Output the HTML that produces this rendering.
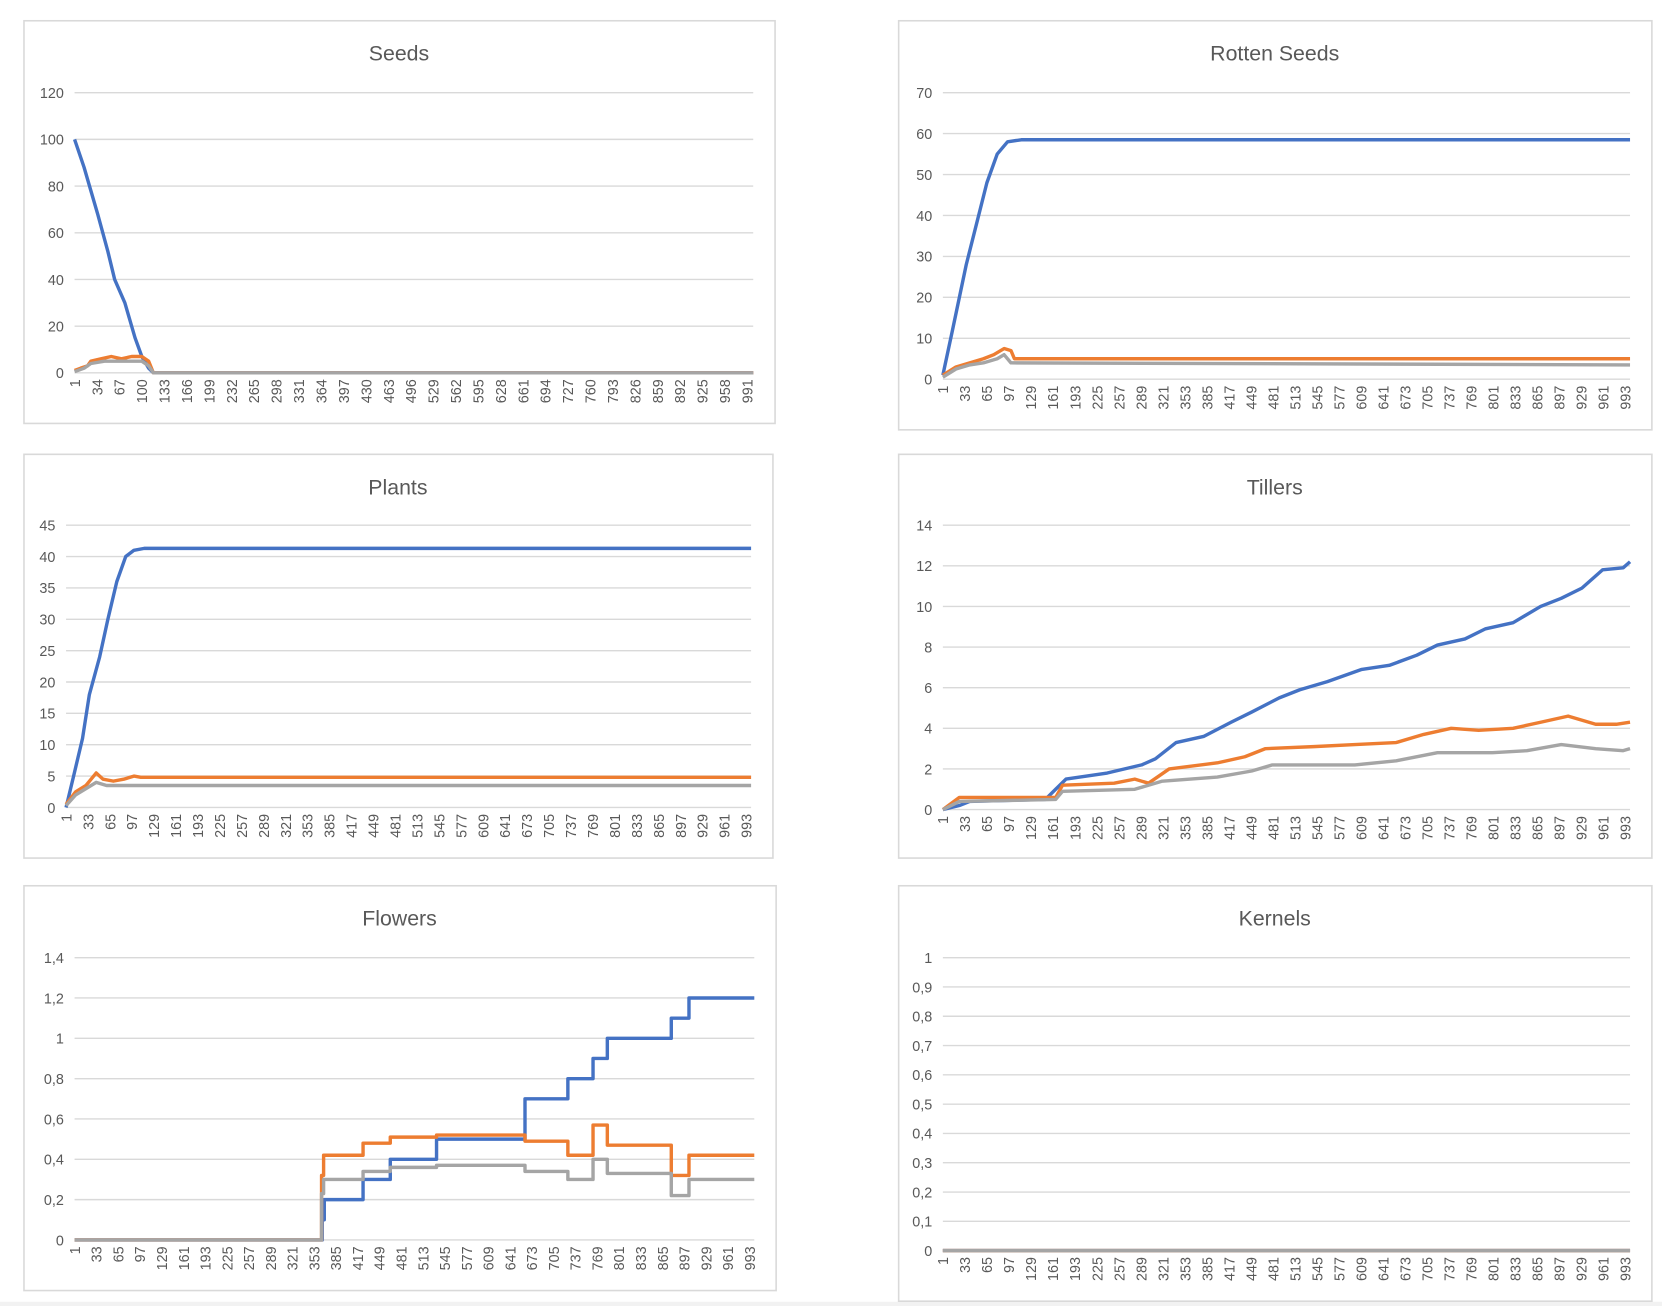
<!DOCTYPE html>
<html><head><meta charset="utf-8"><style>
html,body{margin:0;padding:0;background:#fff;}
svg{display:block;font-family:"Liberation Sans",sans-serif;}
</style></head><body>
<svg id="root" width="1662" height="1306" viewBox="0 0 1560 1226" preserveAspectRatio="none" xmlns="http://www.w3.org/2000/svg">
<rect x="0" y="1222" width="1560" height="4" fill="#f2f2f2"/>
</svg>
<script>
// ---- Seeds ----
const seedsBlue=[[1,100],[15,88],[25,78],[35,68],[50,52],[60,40],[75,30],[90,15],[100,7],[110,2],[117,0],[1000,0]];
const seedsOrange=[[1,1],[10,2],[20,3],[25,5],[40,6],[55,7],[70,6],[85,7],[100,7],[110,5],[117,0],[1000,0]];
const seedsGrey=[[1,0.5],[15,2],[25,4],[45,5],[60,5],[100,5],[110,3],[117,0],[1000,0]];
const seedsTicks=[0,20,40,60,80,100,120];
// ---- Rotten Seeds ----
const rotBlue=[[1,1],[15,12],[25,20],[35,28],[50,38],[65,48],[80,55],[95,58],[115,58.5],[1000,58.5]];
const rotOrange=[[1,1],[20,3],[40,4],[60,5],[75,6],[90,7.5],[100,7],[105,5],[1000,5]];
const rotGrey=[[1,0.5],[20,2.5],[40,3.5],[60,4],[80,5],[90,6],[100,4],[1000,3.5]];
const rotTicks=[0,10,20,30,40,50,60,70];
// ---- Plants ----
const plantBlue=[[1,0],[12,5],[25,11],[35,18],[50,24],[62,30],[75,36],[88,40],[100,41],[115,41.3],[1000,41.3]];
const plantOrange=[[1,0.5],[15,2.5],[30,3.5],[45,5.5],[55,4.5],[70,4.2],[85,4.5],[100,5],[110,4.8],[1000,4.8]];
const plantGrey=[[1,0.3],[15,2],[30,3],[45,4],[60,3.5],[80,3.5],[1000,3.5]];
const plantTicks=[0,5,10,15,20,25,30,35,40,45];
// ---- Tillers ----
const tilBlue=[[1,0],[25,0.2],[40,0.4],[150,0.5],[165,1],[180,1.5],[240,1.8],[290,2.2],[310,2.5],[340,3.3],[380,3.6],[420,4.3],[450,4.8],[490,5.5],[520,5.9],[560,6.3],[610,6.9],[650,7.1],[690,7.6],[720,8.1],[760,8.4],[790,8.9],[830,9.2],[870,10],[900,10.4],[930,10.9],[960,11.8],[990,11.9],[1000,12.2]];
const tilOrange=[[1,0],[25,0.6],[165,0.6],[175,1.2],[250,1.3],[280,1.5],[300,1.3],[330,2],[400,2.3],[440,2.6],[470,3],[540,3.1],[600,3.2],[660,3.3],[700,3.7],[740,4],[780,3.9],[830,4],[870,4.3],[910,4.6],[950,4.2],[980,4.2],[1000,4.3]];
const tilGrey=[[1,0],[25,0.4],[165,0.5],[175,0.9],[280,1],[320,1.4],[400,1.6],[450,1.9],[480,2.2],[600,2.2],[660,2.4],[720,2.8],[800,2.8],[850,2.9],[900,3.2],[950,3],[990,2.9],[1000,3]];
const tilTicks=[0,2,4,6,8,10,12,14];
// ---- Flowers (step series) ----
const flBlue=[[1,0],[365,0.1],[368,0.2],[425,0.3],[465,0.4],[533,0.5],[663,0.7],[726,0.8],[763,0.9],[784,1.0],[878,1.1],[904,1.2],[1000,1.2]];
const flOrange=[[1,0],[364,0.32],[367,0.42],[425,0.48],[465,0.51],[533,0.52],[663,0.49],[726,0.42],[763,0.57],[784,0.47],[878,0.32],[904,0.42],[1000,0.42]];
const flGrey=[[1,0],[364,0.23],[367,0.3],[425,0.34],[465,0.36],[533,0.37],[663,0.34],[726,0.3],[763,0.4],[784,0.33],[878,0.22],[904,0.3],[1000,0.3]];
const flTicks=[0,0.2,0.4,0.6,0.8,1,1.2,1.4];
// ---- Kernels ----
const kerBlue=[[1,0],[1000,0]];
const kerOrange=[[1,0],[1000,0]];
const kerGrey=[[1,0],[1000,0]];
const kerTicks=[0,0.1,0.2,0.3,0.4,0.5,0.6,0.7,0.8,0.9,1];
const labels33=[];for(let v=1;v<=1000;v+=33)labels33.push(v);
const labels32=[];for(let v=1;v<=1000;v+=32)labels32.push(v);

const NS="http://www.w3.org/2000/svg";
const root=document.getElementById('root');
function mk(tag,attrs,parent){const e=document.createElementNS(NS,tag);for(const k in attrs)e.setAttribute(k,attrs[k]);parent.appendChild(e);return e;}
const COLORS={blue:'#4472c4',orange:'#ed7d31',grey:'#a5a5a5'};

function chart(o){
  const g=mk('g',{},root);
  
  
  const b=mk('rect',{x:o.box[0]+0.5,y:o.box[1]+0.5,width:o.box[2]-o.box[0],height:o.box[3]-o.box[1],fill:'#fff',stroke:'#d9d9d9','stroke-width':1.5},g);
  
  
  const t=mk('text',{x:(o.box[0]+o.box[2])/2,y:o.box[1]+38,'text-anchor':'middle','font-size':20,fill:'#595959'},g);
  t.textContent=o.title;
  
  
  const ymax=o.ticks[o.ticks.length-1];
  const X=v=>o.x0+(v-1)/999*(o.x1-o.x0);
  const Y=v=>o.y0-v/ymax*(o.y0-o.y1);
  o.ticks.forEach(tv=>{
    const l=mk('line',{x1:o.x0,x2:o.x1,y1:Y(tv),y2:Y(tv),stroke:'#d9d9d9','stroke-width':1.3},g);
    
    
    const tx=mk('text',{x:o.x0-10,y:Y(tv)+5,'text-anchor':'end','font-size':13.5,fill:'#595959'},g);
    tx.textContent=String(tv).replace('.',',');
    
    
  });
  o.xlabels.forEach(v=>{
    const px=X(v)+5, py=o.y0+6;
    const tx=mk('text',{x:px,y:py,transform:`rotate(-90 ${px} ${py})`,'text-anchor':'end','font-size':13.5,fill:'#595959'},g);
    tx.textContent=v;
    
    
  });
  o.series.forEach(s=>{
    let d='';
    s.data.forEach((p,i)=>{
      if(i===0){d+='M'+X(p[0])+','+Y(p[1]);}
      else{
        if(o.step)d+='L'+X(p[0])+','+Y(s.data[i-1][1]);
        d+='L'+X(p[0])+','+Y(p[1]);
      }
    });
    const p=mk('path',{d:d,fill:'none',stroke:COLORS[s.c],'stroke-width':3.2,'stroke-linejoin':'round'},g);
    
    
  });
}
chart({name:'seeds',title:'Seeds',box:[22,19,727,397],x0:70,x1:707,y0:350,y1:87,ticks:seedsTicks,xlabels:labels33,
  series:[{c:'blue',data:seedsBlue},{c:'orange',data:seedsOrange},{c:'grey',data:seedsGrey}]});
chart({name:'rotten-seeds',title:'Rotten Seeds',box:[843,19,1550,403],x0:885,x1:1530,y0:356,y1:87,ticks:rotTicks,xlabels:labels32,
  series:[{c:'blue',data:rotBlue},{c:'orange',data:rotOrange},{c:'grey',data:rotGrey}]});
chart({name:'plants',title:'Plants',box:[22,426,725,805],x0:62,x1:705,y0:758,y1:493,ticks:plantTicks,xlabels:labels32,
  series:[{c:'blue',data:plantBlue},{c:'orange',data:plantOrange},{c:'grey',data:plantGrey}]});
chart({name:'tillers',title:'Tillers',box:[843,426,1550,805],x0:885,x1:1530,y0:760,y1:493,ticks:tilTicks,xlabels:labels32,
  series:[{c:'blue',data:tilBlue},{c:'orange',data:tilOrange},{c:'grey',data:tilGrey}]});
chart({name:'flowers',title:'Flowers',box:[22,831,728,1211],x0:70,x1:708,y0:1164,y1:899,ticks:flTicks,xlabels:labels32,step:true,
  series:[{c:'blue',data:flBlue},{c:'orange',data:flOrange},{c:'grey',data:flGrey}]});
chart({name:'kernels',title:'Kernels',box:[843,831,1550,1221],x0:885,x1:1530,y0:1174,y1:899,ticks:kerTicks,xlabels:labels32,
  series:[{c:'blue',data:kerBlue},{c:'orange',data:kerOrange},{c:'grey',data:kerGrey}]});
</script>
</body></html>
